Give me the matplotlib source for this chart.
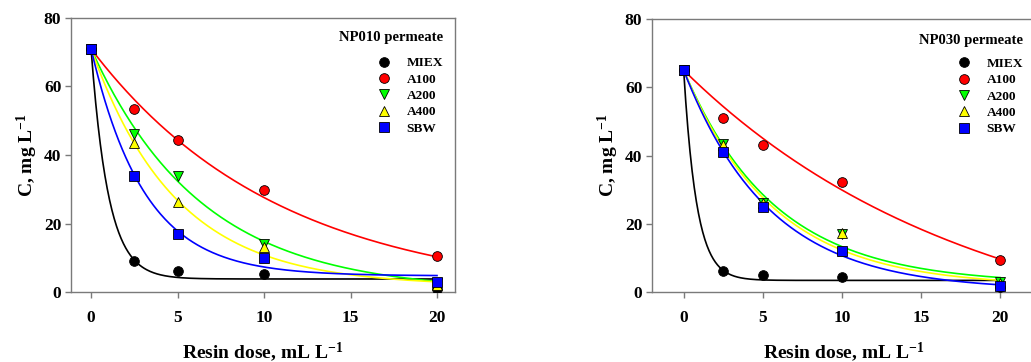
import numpy as np
import matplotlib.pyplot as plt
from matplotlib.lines import Line2D

plt.rcParams['font.family'] = ['Liberation Serif', 'DejaVu Serif']
plt.rcParams['font.weight'] = 'bold'
plt.rcParams['mathtext.fontset'] = 'custom'
plt.rcParams['mathtext.rm'] = 'Liberation Serif:bold'
plt.rcParams['mathtext.bf'] = 'Liberation Serif:bold'
plt.rcParams['mathtext.default'] = 'bf'

dose = [0, 2.5, 5, 10, 20]
resins = ['MIEX', 'A100', 'A200', 'A400', 'SBW']
colors = ['black', '#ff0000', '#00ff00', '#ffff00', '#0000ff']
markers = ['o', 'o', 'v', '^', 's']

# NP010 permeate
np010 = {
    'MIEX': [71, 9.0, 6.1, 5.2, 1.0],
    'A100': [71, 53.5, 44.3, 29.8, 10.4],
    'A200': [71, 46.0, 33.8, 14.0, 2.5],
    'A400': [71, 43.5, 26.3, 13.0, 2.0],
    'SBW':  [71, 34.0, 17.0, 10.0, 3.0],
}
# fitted curves y = y0 + a*exp(-k*x)
np010_fit = {
    'MIEX': (3.8, 67.2, 1.0),
    'A100': (-1.2, 72.2, 0.092),
    'A200': (0.0, 71.0, 0.157),
    'A400': (1.8, 69.2, 0.204),
    'SBW':  (4.7, 66.3, 0.324),
}

# NP030 permeate
np030 = {
    'MIEX': [65, 6.3, 5.1, 4.4, 1.5],
    'A100': [65, 50.9, 43.0, 32.1, 9.5],
    'A200': [65, 43.5, 26.0, 17.0, 3.0],
    'A400': [65, 43.0, 26.0, 17.2, 2.5],
    'SBW':  [65, 40.9, 24.8, 12.0, 1.8],
}
np030_fit = {
    'MIEX': (3.4, 61.6, 1.22),
    'A100': (-18.0, 83.0, 0.055),
    'A200': (2.3, 62.7, 0.174),
    'A400': (1.6, 63.4, 0.178),
    'SBW':  (0.5, 64.5, 0.185),
}

fig = plt.figure(figsize=(10.31, 3.62), dpi=100)
ax1 = fig.add_axes([71/1031, 70/362, 384/1031, 274/362])
ax2 = fig.add_axes([652/1031, 70/362, 383/1031, 273/362])


def panel(ax, data, fits, title, xlim, title_y):
    xx = np.linspace(0, 20, 300)
    for r, c in zip(resins, colors):
        y0, a, k = fits[r]
        ax.plot(xx, y0 + a*np.exp(-k*xx), color=c, lw=1.2, zorder=2)
    handles = []
    for r, c, m in zip(resins, colors, markers):
        ms = 7 if m != 's' else 6.5
        ax.plot(dose, data[r], ls='none', marker=m, ms=ms,
                mfc=c, mec='black', mew=0.6, zorder=3)
        handles.append(Line2D([], [], ls='none', marker=m, ms=ms,
                              mfc=c, mec='black', mew=0.6, label=r))
    ax.set_xlim(*xlim)
    ax.set_ylim(0, 80)
    ax.set_xticks([0, 5, 10, 15, 20])
    ax.set_yticks([0, 20, 40, 60, 80])
    for s in ax.spines.values():
        s.set_color('#7a7a7a')
        s.set_linewidth(1.0)
    ax.tick_params(direction='out', length=4, width=1, color='#7a7a7a',
                   labelsize=12.5)
    ax.tick_params(axis='x', pad=9)
    ax.tick_params(axis='y', pad=3)
    ax.set_xlabel(r'Resin dose, mL L$^{-1}$', fontsize=14, fontweight='bold', labelpad=10)
    ax.set_ylabel(r'C, mg L$^{-1}$', fontsize=14, fontweight='bold', labelpad=3)
    ax.text(0.969, title_y, title, transform=ax.transAxes, ha='right', va='center',
            fontsize=10.6, fontweight='bold')
    ax.legend(handles=handles, loc='upper right',
              bbox_to_anchor=(0.969, 0.858), frameon=False,
              prop={'size': 9.6, 'weight': 'bold'},
              handlelength=1.0, handletextpad=1.2, labelspacing=0.3,
              borderaxespad=0, borderpad=0)


panel(ax1, np010, np010_fit, 'NP010 permeate', (-1.16, 21.04), 0.929)
panel(ax2, np030, np030_fit, 'NP030 permeate', (-2.0, 22.2), 0.923)

fig.savefig('out.png', dpi=100)
